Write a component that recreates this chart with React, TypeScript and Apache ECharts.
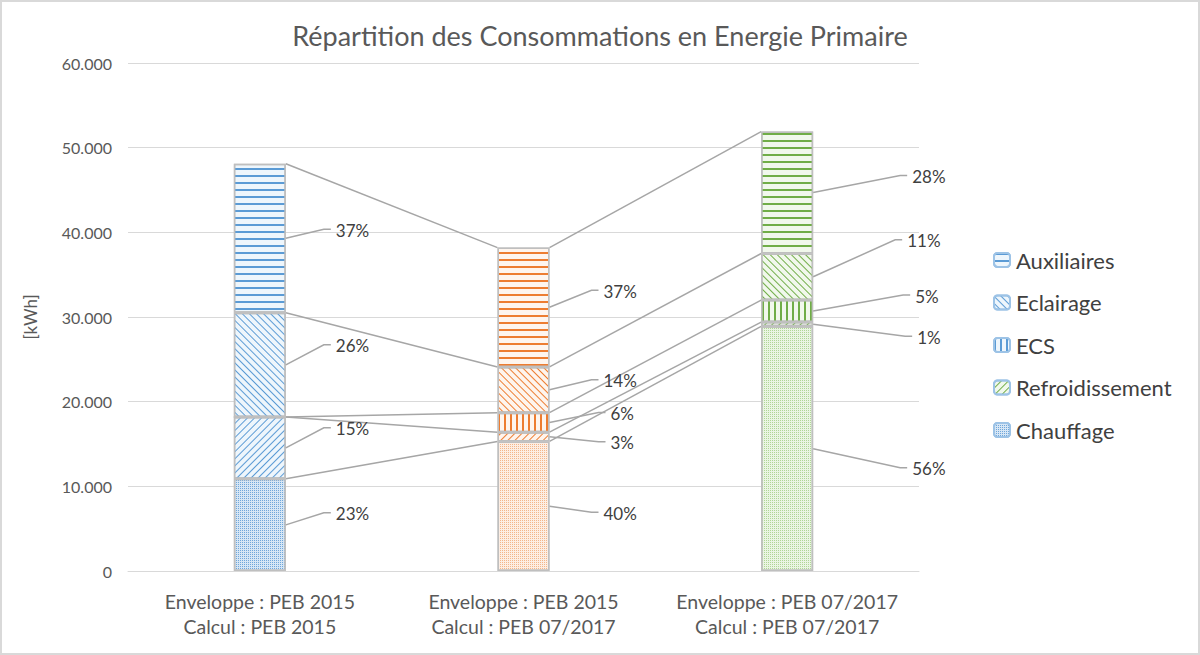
import React, { useEffect, useRef } from 'react';
import * as echarts from 'echarts';

// ---------------- data ----------------
const categories = [
  'Enveloppe : PEB 2015\nCalcul : PEB 2015',
  'Enveloppe : PEB 2015\nCalcul : PEB 07/2017',
  'Enveloppe : PEB 07/2017\nCalcul : PEB 07/2017',
];
const seriesNames = ['Chauffage', 'Refroidissement', 'ECS', 'Eclairage', 'Auxiliaires'];
const chauffage = [10900, 15300, 28900];
const refroidissement = [7300, 1100, 500];
const ecs = [0, 2300, 2600];
const eclairage = [12300, 5400, 5500];
const auxiliaires = [17600, 14100, 14400];
const legendOrder = ['Auxiliaires', 'Eclairage', 'ECS', 'Refroidissement', 'Chauffage'];
const yMin = 0;
const yMax = 60000;
const yStep = 10000;

const seriesValues = [chauffage, refroidissement, ecs, eclairage, auxiliaires];

// ---------------- styles ----------------
const FONT = 'Lato, "Open Sans", sans-serif';
const BAR_WIDTH = 52;
const GREY_LINE = '#a6a6a6';
const FAMILY = [
  { line: '#5b9bd5', bg: '#eef6fc', dotBg: '#d6e6f5', dot: '#6fa6da' },
  { line: '#ed7d31', bg: '#fef5ee', dotBg: '#fdeee3', dot: '#f3b68a' },
  { line: '#70ad47', bg: '#f1f8ec', dotBg: '#eaf5e3', dot: '#b0d596' },
];
// label leader-line end offsets (from bar right edge / segment middle)
const LABEL_DX = [
  [38, 38, 38, 38, 38],
  [42, 49, 49, 42, 42],
  [87, 92, 90, 82, 87],
];
const LABEL_DY = [
  [-12, -20, 0, -20, -9],
  [6, 5, -10, -10, -17],
  [19, 12, -16, -37, -17],
];

function decalFor(s: number, color: string) {
  switch (s) {
    case 0:
      return { symbol: 'rect', symbolSize: 1, dashArrayX: [1, 1], dashArrayY: [1, 1], color, rotation: 0 };
    case 1:
      return { symbol: 'rect', symbolSize: 1, dashArrayX: [1, 0], dashArrayY: [1, 3.6], color, rotation: -Math.PI / 4 };
    case 2:
      return { symbol: 'rect', symbolSize: 1, dashArrayX: [2, 3.5], dashArrayY: [1, 0], color, rotation: 0 };
    case 3:
      return { symbol: 'rect', symbolSize: 1, dashArrayX: [1, 0], dashArrayY: [1, 3.4], color, rotation: Math.PI / 4 };
    default:
      return { symbol: 'rect', symbolSize: 1, dashArrayX: [1, 0], dashArrayY: [1.5, 4.5], color, rotation: 0 };
  }
}

function itemStyleFor(cat: number, s: number) {
  const f = FAMILY[cat];
  return {
    color: s === 0 ? f.dotBg : f.bg,
    borderColor: '#bfbfbf',
    borderWidth: 1.5,
    decal: decalFor(s, s === 0 ? f.dot : f.line),
  };
}

function fmtThousands(v: number) {
  return String(Math.round(v)).replace(/\B(?=(\d{3})+(?!\d))/g, '.');
}

export default function App() {
  const ref = useRef<HTMLDivElement>(null);

  useEffect(() => {
    if (!ref.current) return;
    const chart = echarts.init(ref.current, undefined, { renderer: 'svg' });

    const totals = categories.map((_, i) => seriesValues.reduce((a, arr) => a + arr[i], 0));
    const cumTop = (i: number, s: number) => {
      let t = 0;
      for (let k = 0; k <= s; k++) t += seriesValues[k][i];
      return t;
    };

    // series-line data: [catFrom, topFrom, catTo, topTo]
    const connectorData: number[][] = [];
    for (let s = 0; s < seriesValues.length; s++) {
      for (let i = 0; i < categories.length - 1; i++) {
        connectorData.push([i, cumTop(i, s), i + 1, cumTop(i + 1, s)]);
      }
    }
    // label data: [cat, midValue, pct, seriesIndex]
    const labelData: number[][] = [];
    for (let i = 0; i < categories.length; i++) {
      for (let s = 0; s < seriesValues.length; s++) {
        const v = seriesValues[s][i];
        if (v <= 0) continue;
        const mid = cumTop(i, s) - v / 2;
        labelData.push([i, mid, Math.round((v / totals[i]) * 100), s]);
      }
    }

    const barSeries = seriesNames.map((name, s) => {
      const fam = s === 1 ? FAMILY[2] : FAMILY[0];
      return {
        type: 'bar',
        name,
        stack: 'total',
        barWidth: BAR_WIDTH,
        z: 3,
        itemStyle: {
          color: s === 0 ? fam.dotBg : fam.bg,
          borderColor: '#9dc3e6',
          borderWidth: 1,
          decal: decalFor(s, s === 0 ? fam.dot : fam.line),
        },
        data: seriesValues[s].map((v, i) => ({ value: v, itemStyle: itemStyleFor(i, s) })),
      };
    });

    const option: any = {
      animation: false,
      backgroundColor: '#ffffff',
      title: {
        text: 'Répartition des Consommations en Energie Primaire',
        left: 'center',
        top: 17,
        textStyle: { fontFamily: FONT, fontSize: 27, fontWeight: 'normal', color: '#595959' },
      },
      legend: {
        orient: 'vertical',
        left: 988,
        top: 244,
        itemWidth: 16,
        itemHeight: 14,
        itemGap: 20.5,
        data: legendOrder,
        textStyle: { fontFamily: FONT, fontSize: 22, lineHeight: 22, color: '#404040', padding: [0, 0, 0, 1] },
        selectedMode: false,
      },
      grid: { left: 128, right: 281, top: 63, bottom: 84 },
      xAxis: {
        type: 'category',
        data: categories,
        axisTick: { show: false },
        axisLine: { lineStyle: { color: '#d9d9d9', width: 1 } },
        axisLabel: { fontFamily: FONT, fontSize: 19.5, color: '#595959', lineHeight: 25, margin: 18, interval: 0 },
      },
      yAxis: {
        type: 'value',
        min: yMin,
        max: yMax,
        interval: yStep,
        name: '[kWh]',
        nameLocation: 'middle',
        nameGap: 89,
        nameTextStyle: { fontFamily: FONT, fontSize: 17, color: '#595959' },
        axisLine: { show: false },
        axisTick: { show: false },
        splitLine: { lineStyle: { color: '#d9d9d9', width: 1 } },
        axisLabel: {
          fontFamily: FONT,
          fontSize: 16,
          color: '#595959',
          margin: 16,
          formatter: (v: number) => fmtThousands(v),
        },
      },
      graphic: [
        {
          type: 'rect',
          silent: true,
          shape: { x: 1, y: 1, width: 1198, height: 653 },
          style: { fill: 'none', stroke: '#d9d9d9', lineWidth: 2 },
        },
      ],
      series: [
        ...barSeries,
        {
          type: 'custom',
          name: 'seriesLines',
          z: 2,
          silent: true,
          data: connectorData,
          encode: { x: 0, y: 1 },
          renderItem: (params: any, api: any) => {
            const p1 = api.coord([api.value(0), api.value(1)]);
            const p2 = api.coord([api.value(2), api.value(3)]);
            return {
              type: 'line',
              shape: { x1: p1[0] + BAR_WIDTH / 2, y1: p1[1], x2: p2[0] - BAR_WIDTH / 2, y2: p2[1] },
              style: { stroke: GREY_LINE, lineWidth: 1.5 },
            };
          },
        },
        {
          type: 'custom',
          name: 'pctLabels',
          z: 5,
          silent: true,
          data: labelData,
          encode: { x: 0, y: 1 },
          renderItem: (params: any, api: any) => {
            const cat = api.value(0);
            const s = api.value(3);
            const p = api.coord([cat, api.value(1)]);
            const x0 = p[0] + BAR_WIDTH / 2;
            const y0 = p[1];
            const x1 = x0 + LABEL_DX[cat][s];
            const y1 = y0 + LABEL_DY[cat][s];
            const x2 = x1 + 7;
            return {
              type: 'group',
              children: [
                {
                  type: 'polyline',
                  shape: { points: [[x0, y0], [x1, y1], [x2, y1]] },
                  style: { stroke: GREY_LINE, lineWidth: 1.5, fill: null },
                },
                {
                  type: 'text',
                  x: x2 + 5,
                  y: y1 + 1,
                  style: {
                    text: api.value(2) + '%',
                    fill: '#404040',
                    fontFamily: FONT,
                    fontSize: 17,
                    align: 'left',
                    verticalAlign: 'middle',
                  },
                },
              ],
            };
          },
        },
      ],
    };

    chart.setOption(option);
    return () => chart.dispose();
  }, []);

  return (
    <div
      ref={ref}
      style={{ position: 'absolute', left: 0, top: 0, width: 1200, height: 655, background: '#fff' }}
    />
  );
}
